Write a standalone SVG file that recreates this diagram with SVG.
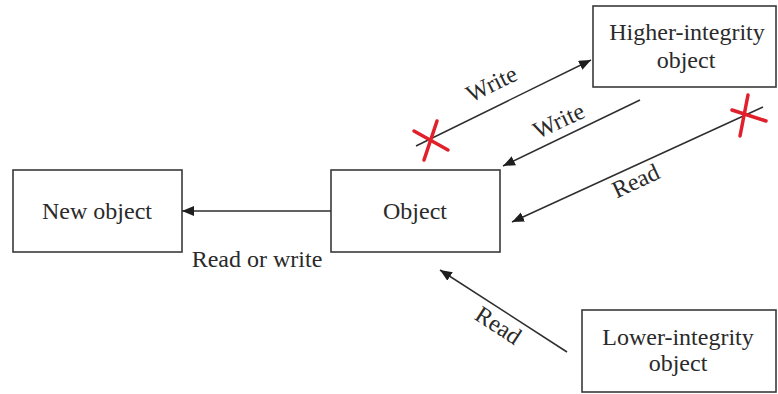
<svg xmlns="http://www.w3.org/2000/svg" width="778" height="394" viewBox="0 0 778 394">
  <style>
    .box { fill: #ffffff; stroke: #3a3a3a; stroke-width: 1.6; }
    .lbl { font-family: "Liberation Serif", "Times New Roman", serif; font-size: 24px; fill: #2a2a2a; text-anchor: middle; }
    .edge { stroke: #2e2e2e; stroke-width: 1.5; fill: none; marker-end: url(#arrow); }
    .cross { stroke: #e0202a; stroke-width: 3.5; stroke-linecap: round; }
  </style>
  <defs>
    <marker id="arrow" markerUnits="userSpaceOnUse" markerWidth="13" markerHeight="11" refX="12" refY="5" orient="auto">
      <path d="M0,0 L12,5 L0,10 z" fill="#1e1e1e"/>
    </marker>
  </defs>
  <rect width="778" height="394" fill="#ffffff"/>

  <g id="new-object">
    <rect class="box" x="13" y="170" width="169" height="82"/>
    <text class="lbl" x="97" y="219">New object</text>
  </g>
  <g id="object">
    <rect class="box" x="331" y="170" width="169" height="82"/>
    <text class="lbl" x="415" y="219">Object</text>
  </g>
  <g id="higher-integrity">
    <rect class="box" x="593" y="6" width="183" height="81"/>
    <text class="lbl" x="687" y="40">Higher-integrity</text>
    <text class="lbl" x="686" y="68">object</text>
  </g>
  <g id="lower-integrity">
    <rect class="box" x="582" y="310" width="194" height="82"/>
    <text class="lbl" x="678" y="345">Lower-integrity</text>
    <text class="lbl" x="678" y="371">object</text>
  </g>

  <g id="connectors">
    <line class="edge" x1="331" y1="211" x2="182" y2="211"/>
    <line class="edge" x1="416" y1="146" x2="591" y2="60"/>
    <line class="edge" x1="640" y1="100" x2="503" y2="166"/>
    <line class="edge" x1="763" y1="107" x2="512" y2="222"/>
    <line class="edge" x1="567" y1="352" x2="440" y2="270"/>

    <text class="lbl" x="257" y="267">Read or write</text>
    <text class="lbl" transform="translate(495,91) rotate(-26)">Write</text>
    <text class="lbl" transform="translate(562,128) rotate(-25)">Write</text>
    <text class="lbl" transform="translate(639,188) rotate(-25)">Read</text>
    <text class="lbl" transform="translate(494,332) rotate(33)">Read</text>

    <!-- blocked flows -->
    <g class="cross">
      <line x1="414" y1="131" x2="448" y2="150"/>
      <line x1="437" y1="121" x2="424" y2="160"/>
      <line x1="732" y1="110" x2="766" y2="121"/>
      <line x1="748" y1="95" x2="740" y2="136"/>
    </g>
  </g>
</svg>
